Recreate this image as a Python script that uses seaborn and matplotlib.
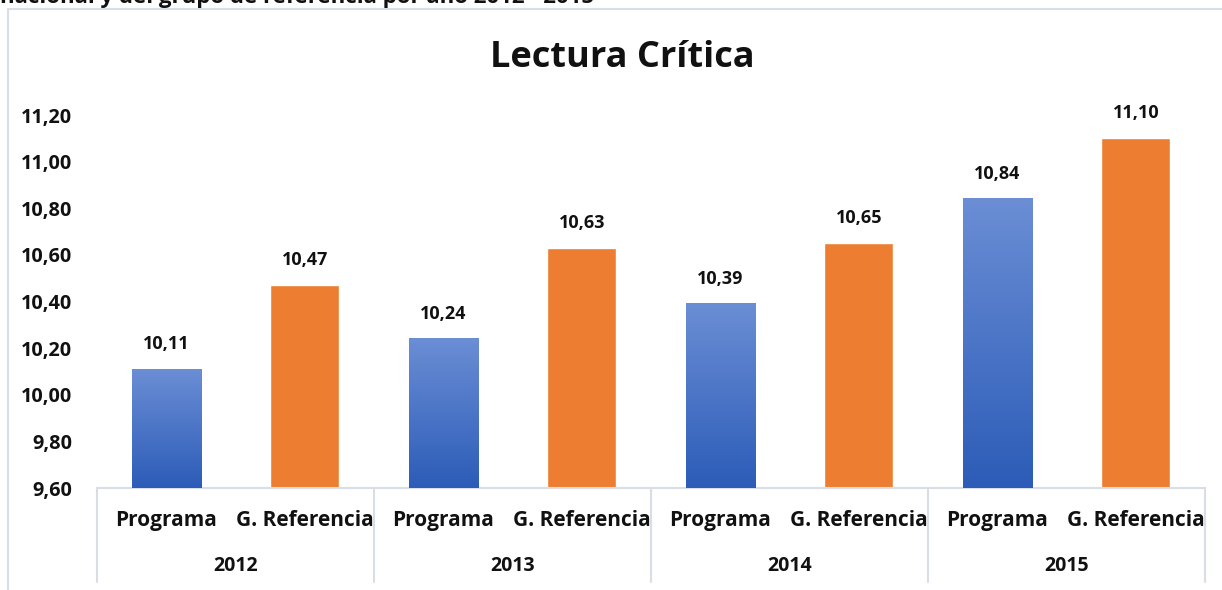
import matplotlib
matplotlib.use("Agg")
import matplotlib.pyplot as plt
import matplotlib.transforms as mtransforms
from matplotlib.colors import LinearSegmentedColormap
from matplotlib.lines import Line2D
from matplotlib.ticker import FuncFormatter
import numpy as np
import pandas as pd
import seaborn as sns

# datos
years = ["2012", "2013", "2014", "2015"]
grupos = ["Programa", "G. Referencia"]
programa = [10.11, 10.24, 10.39, 10.84]
referencia = [10.47, 10.63, 10.65, 11.10]
y_ticks = [9.60, 9.80, 10.00, 10.20, 10.40, 10.60, 10.80, 11.00, 11.20]

titulo = "Lectura Crítica"
subtitulo = "nacional y del grupo de referencia por año 2012 - 2015"

df = pd.DataFrame({
    "year": years * 2,
    "grupo": [grupos[0]] * len(years) + [grupos[1]] * len(years),
    "valor": programa + referencia,
})

sns.set_theme(style="white")
plt.rcParams["font.family"] = ["Open Sans", "DejaVu Sans"]
negro = "#111111"

W, H = 1222, 590
fig = plt.figure(figsize=(W / 100, H / 100), dpi=100)
ax = fig.add_axes([97 / W, 1 - 488 / H, (1205 - 97) / W, (488 - 115) / H])

sns.barplot(data=df, x="year", y="valor", hue="grupo", order=years,
            hue_order=grupos, palette=["#4472C4", "#ED7D31"], width=1.0,
            gap=0.5, saturation=1, errorbar=None, legend=False, ax=ax)

# degradado azul en las barras del programa
azul = LinearSegmentedColormap.from_list("azul", ["#2C5CB8", "#6B8ED5"])
grad = np.linspace(0, 1, 256).reshape(-1, 1)
for bar in ax.containers[0]:
    x0 = bar.get_x()
    x1 = x0 + bar.get_width()
    ax.imshow(grad, extent=[x0, x1, y_ticks[0], bar.get_height()],
              origin="lower", aspect="auto", cmap=azul, zorder=3)
ax.set_ylim(y_ticks[0], y_ticks[-1])
ax.set_xlim(-0.5, len(years) - 0.5)

# etiquetas de datos
for cont in ax.containers:
    for bar in cont:
        h = bar.get_height()
        ax.annotate(f"{h:.2f}".replace(".", ","),
                    (bar.get_x() + bar.get_width() / 2, h),
                    xytext=(0, 18), textcoords="offset points",
                    ha="center", va="center", fontsize=13,
                    fontweight="bold", color=negro)

ax.set_yticks(y_ticks)
ax.yaxis.set_major_formatter(FuncFormatter(lambda v, p: f"{v:.2f}".replace(".", ",")))
ax.tick_params(axis="y", length=0, pad=18, labelsize=14.3)
for t in ax.get_yticklabels():
    t.set_fontweight("bold")
    t.set_color(negro)
ax.set_xticks([])
ax.set_xlabel("")
ax.set_ylabel("")

for s in ["left", "top", "right"]:
    ax.spines[s].set_visible(False)
gris = "#D9DEE6"
ax.spines["bottom"].set_color(gris)
ax.spines["bottom"].set_linewidth(1.5)

# eje de categorias en dos niveles
trans = mtransforms.blended_transform_factory(ax.transData, ax.transAxes)
for i, cont in enumerate(ax.containers):
    for bar in cont:
        ax.text(bar.get_x() + bar.get_width() / 2, -0.086, grupos[i],
                transform=trans, ha="center", va="center", fontsize=15,
                fontweight="bold", color=negro)
for i, yr in enumerate(years):
    ax.text(i, -0.209, yr, transform=trans, ha="center", va="center",
            fontsize=14, fontweight="bold", color=negro)
for b in np.arange(len(years) + 1) - 0.5:
    ax.plot([b, b], [0, -0.252], transform=trans, clip_on=False,
            color=gris, lw=1.5)

fig.text(622 / W, 1 - 58 / H, titulo, ha="center", va="center",
         fontsize=26, fontweight="bold", color=negro)

# marco del grafico y texto recortado arriba
fig.add_artist(Line2D([8 / W, 8 / W, 1], [0, 1 - 9 / H, 1 - 9 / H],
                      transform=fig.transFigure, color=gris, lw=1.5))
fig.text(0.0, 1 - 3 / H, subtitulo, ha="left", va="baseline",
         fontsize=16, fontweight="bold", color=negro)

fig.savefig("out.png", dpi=100)
